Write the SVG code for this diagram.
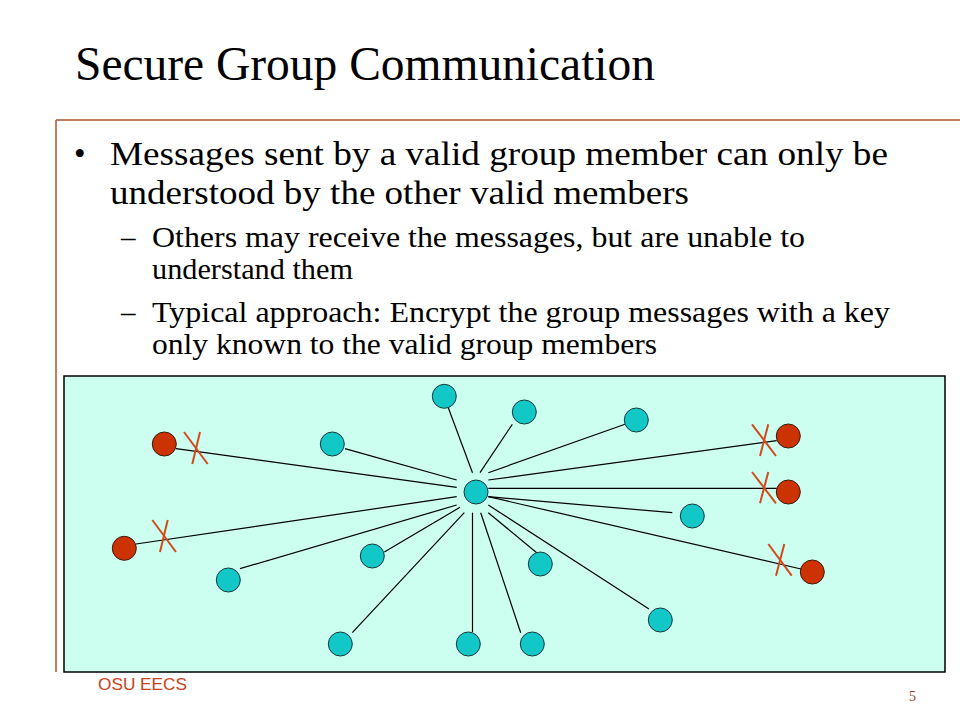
<svg xmlns="http://www.w3.org/2000/svg" width="960" height="720" viewBox="0 0 960 720">
<style>
.t{font-family:"Liberation Serif","Times New Roman",serif;fill:#000}
.m{fill:#11C7C7;stroke:#1a3a3a;stroke-width:1}
.r{fill:#CC3300;stroke:#3a1a10;stroke-width:1}
.c line{stroke:#000;stroke-width:1.2}
.x line{stroke:#D2491B;stroke-width:2}
.f{font-family:"Liberation Sans",Arial,sans-serif}
</style>
<rect width="960" height="720" fill="#fff"/>
<g id="frame" stroke="#B0502C" stroke-width="1.5" fill="none">
<line x1="56" y1="120" x2="960" y2="120"/>
<line x1="56" y1="120" x2="56" y2="672"/>
</g>
<g id="title"><text class="t" x="75" y="80" font-size="48" textLength="580" lengthAdjust="spacingAndGlyphs">Secure Group Communication</text></g>
<g id="bullets">
<text class="t" x="74" y="165" font-size="33">•</text>
<text class="t" x="110" y="165" font-size="33" textLength="778" lengthAdjust="spacingAndGlyphs">Messages sent by a valid group member can only be</text>
<text class="t" x="110" y="204" font-size="33" textLength="579" lengthAdjust="spacingAndGlyphs">understood by the other valid members</text>
<text class="t" x="121" y="247" font-size="29">–</text>
<text class="t" x="152" y="247" font-size="29" textLength="653" lengthAdjust="spacingAndGlyphs">Others may receive the messages, but are unable to</text>
<text class="t" x="152" y="279" font-size="29" textLength="201" lengthAdjust="spacingAndGlyphs">understand them</text>
<text class="t" x="121" y="322" font-size="29">–</text>
<text class="t" x="152" y="322" font-size="29" textLength="738" lengthAdjust="spacingAndGlyphs">Typical approach: Encrypt the group messages with a key</text>
<text class="t" x="152" y="354" font-size="29" textLength="505" lengthAdjust="spacingAndGlyphs">only known to the valid group members</text>
</g>
<g id="panel"><rect x="64" y="376" width="881" height="296" fill="#CCFFF0" stroke="#000" stroke-width="1.5"/></g>
<g id="connectors" class="c">
<line x1="448.3" y1="407.7" x2="472.5" y2="472.7"/>
<line x1="176" y1="448.7" x2="456.7" y2="487.3"/>
<line x1="345" y1="448.7" x2="456.7" y2="480"/>
<line x1="136" y1="544" x2="456.7" y2="496.7"/>
<line x1="240" y1="568.7" x2="456.7" y2="505"/>
<line x1="384.3" y1="552" x2="460" y2="507.3"/>
<line x1="352.3" y1="632.7" x2="464.3" y2="512.7"/>
<line x1="472.5" y1="632" x2="472.5" y2="512.7"/>
<line x1="512.3" y1="424.3" x2="480" y2="472.7"/>
<line x1="625" y1="424.3" x2="488.3" y2="472.7"/>
<line x1="776.7" y1="440.7" x2="488.3" y2="480"/>
<line x1="776.7" y1="488.3" x2="488.3" y2="488.3"/>
<line x1="672.3" y1="512.7" x2="488.3" y2="496.7"/>
<line x1="801" y1="569" x2="488.3" y2="496.7"/>
<line x1="536.7" y1="552.7" x2="488.3" y2="512.7"/>
<line x1="649" y1="609" x2="488.3" y2="505"/>
<line x1="520.7" y1="632.7" x2="480.7" y2="512.7"/>
</g>
<g id="hub"><circle class="m" cx="476" cy="492" r="12"/></g>
<g id="member-1"><circle class="m" cx="444.3" cy="396.3" r="12"/></g>
<g id="member-2"><circle class="m" cx="524.3" cy="412" r="12"/></g>
<g id="member-3"><circle class="m" cx="636.3" cy="420" r="12"/></g>
<g id="member-4"><circle class="m" cx="332.3" cy="444" r="12"/></g>
<g id="member-5"><circle class="m" cx="692.3" cy="516" r="12"/></g>
<g id="member-6"><circle class="m" cx="372.3" cy="556" r="12"/></g>
<g id="member-7"><circle class="m" cx="540.3" cy="564" r="12"/></g>
<g id="member-8"><circle class="m" cx="228.3" cy="580" r="12"/></g>
<g id="member-9"><circle class="m" cx="660.3" cy="620" r="12"/></g>
<g id="member-10"><circle class="m" cx="340.3" cy="644" r="12"/></g>
<g id="member-11"><circle class="m" cx="468.3" cy="644" r="12"/></g>
<g id="member-12"><circle class="m" cx="532.3" cy="644" r="12"/></g>
<g id="outsider-1"><circle class="r" cx="164.3" cy="444" r="12"/></g>
<g id="outsider-2"><circle class="r" cx="124.3" cy="548.3" r="12"/></g>
<g id="outsider-3"><circle class="r" cx="788.3" cy="436" r="12"/></g>
<g id="outsider-4"><circle class="r" cx="788.3" cy="492" r="12"/></g>
<g id="outsider-5"><circle class="r" cx="812.3" cy="572" r="12"/></g>
<g id="crosses" class="x">
<line x1="184" y1="432" x2="207.7" y2="464"/><line x1="200" y1="432" x2="192.3" y2="464"/>
<line x1="152.3" y1="520" x2="176" y2="552"/><line x1="167.7" y1="520" x2="160" y2="552"/>
<line x1="752" y1="424.3" x2="776" y2="456"/><line x1="768.3" y1="424.3" x2="760" y2="456"/>
<line x1="752" y1="472" x2="776" y2="503.3"/><line x1="768.3" y1="472" x2="760" y2="503.3"/>
<line x1="768.3" y1="544" x2="791.7" y2="575.7"/><line x1="784.3" y1="544" x2="776" y2="575.7"/>
</g>
<g id="footer">
<text class="f" x="98" y="690" font-size="17" fill="#C8421A" textLength="89" lengthAdjust="spacingAndGlyphs">OSU EECS</text>
<text class="t" x="909" y="701" font-size="14" style="fill:#A04020">5</text>
</g>
</svg>
